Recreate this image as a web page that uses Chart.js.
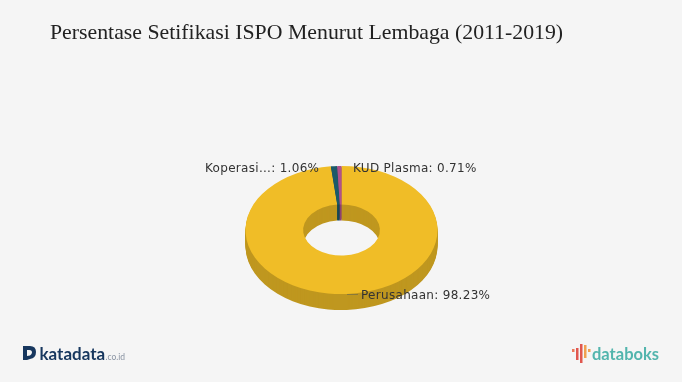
<!DOCTYPE html>
<html>
<head>
<meta charset="utf-8">
<style>
html,body{margin:0;padding:0;background:#f5f5f5;}
#wrap{width:682px;height:382px;position:relative;}
canvas{display:block;}
</style>
<script src="https://cdn.jsdelivr.net/npm/chart.js@4"></script>
</head>
<body>
<div id="wrap"><canvas id="c" width="682" height="382"></canvas></div>
<script>
const titleText = "Persentase Setifikasi ISPO Menurut Lembaga (2011-2019)";
const categories = ["Perusahaan", "Koperasi...", "KUD Plasma"];
const values = [98.23, 1.06, 0.71];
const topColors = ["#f0bd27", "#1c5a69", "#b0528c"];
const sideColors = ["#bf971f", "#164854", "#8c4170"];

const centerX = 341.5, centerY = 230, squash = 0.667, depth = 16;
const labelPositions = [
  {x: 361, y: 296},
  {x: 205, y: 169},
  {x: 353, y: 169}
];

const pie3d = {
  id: "pie3d",
  beforeDatasetDraw(chart, args) {
    const ctx = chart.ctx;
    const arcs = chart.getDatasetMeta(args.index).data;
    const drawLayer = (offset, colors) => {
      arcs.forEach((arc, i) => {
        const a = Object.create(arc);
        a.options = Object.assign({}, arc.options, {backgroundColor: colors[i], borderWidth: 0});
        ctx.save();
        ctx.translate(centerX, centerY + offset);
        ctx.scale(1, squash);
        ctx.translate(-arc.x, -arc.y);
        a.draw(ctx);
        ctx.restore();
      });
    };
    for (let d = depth; d >= 1; d--) drawLayer(d, sideColors);
    drawLayer(0, topColors);
    return false;
  },
  afterDraw(chart) {
    const ctx = chart.ctx;
    ctx.save();
    // connector for the large slice
    ctx.strokeStyle = "#8a7a3a";
    ctx.lineWidth = 1;
    ctx.beginPath();
    ctx.moveTo(347, 294.5);
    ctx.lineTo(358, 294.5);
    ctx.stroke();
    // slice labels
    ctx.fillStyle = "#333333";
    ctx.font = "12px 'DejaVu Sans'";
    ctx.letterSpacing = "0.3px";
    ctx.textBaseline = "middle";
    ctx.textAlign = "left";
    categories.forEach((name, i) => {
      ctx.fillText(name + ": " + values[i].toFixed(2) + "%", labelPositions[i].x, labelPositions[i].y);
    });
    ctx.letterSpacing = "0px";
    // katadata logo
    ctx.fillStyle = "#17375e";
    ctx.beginPath();
    ctx.moveTo(23, 346);
    ctx.lineTo(30, 346);
    ctx.quadraticCurveTo(36, 346, 36, 352);
    ctx.quadraticCurveTo(36, 358, 30, 359);
    ctx.lineTo(27, 360);
    ctx.lineTo(23, 360);
    ctx.closePath();
    ctx.moveTo(27, 350);
    ctx.lineTo(27, 356);
    ctx.lineTo(30, 355.5);
    ctx.quadraticCurveTo(32, 354, 32, 352.5);
    ctx.quadraticCurveTo(32, 350, 29.5, 350);
    ctx.closePath();
    ctx.fill("evenodd");
    ctx.textBaseline = "alphabetic";
    ctx.font = "bold 17px Lato";
    ctx.fillText("katadata", 39.5, 359.5);
    ctx.fillStyle = "#8a94a3";
    ctx.font = "8.5px Lato";
    ctx.fillText(".co.id", 105.5, 359.5);
    // databoks logo
    const bars = [
      [573, 349, 3, "#ec7a5a"],
      [577, 348, 12, "#e0574f"],
      [581, 344, 19, "#e0574f"],
      [585, 345, 13, "#f0a050"],
      [589, 349, 3, "#f0a050"]
    ];
    bars.forEach(b => {
      ctx.fillStyle = b[3];
      ctx.fillRect(b[0] - 1, b[1], 2.5, b[2]);
    });
    ctx.fillStyle = "#52b5ad";
    ctx.font = "bold 16.5px Lato";
    ctx.fillText("databoks", 592, 359.5);
    ctx.restore();
  }
};

new Chart(document.getElementById("c"), {
  type: "doughnut",
  data: {
    labels: categories,
    datasets: [{data: values, backgroundColor: topColors, borderWidth: 0}]
  },
  plugins: [pie3d],
  options: {
    responsive: false,
    animation: false,
    radius: 96,
    cutout: "40%",
    layout: {padding: {left: 50, right: 50, top: 20}},
    plugins: {
      legend: {display: false},
      tooltip: {enabled: false},
      title: {
        display: true,
        text: titleText,
        align: "start",
        color: "#222222",
        font: {family: "'Liberation Serif'", size: 21.8, weight: "normal"},
        padding: 0
      }
    }
  }
});
</script>
</body>
</html>
